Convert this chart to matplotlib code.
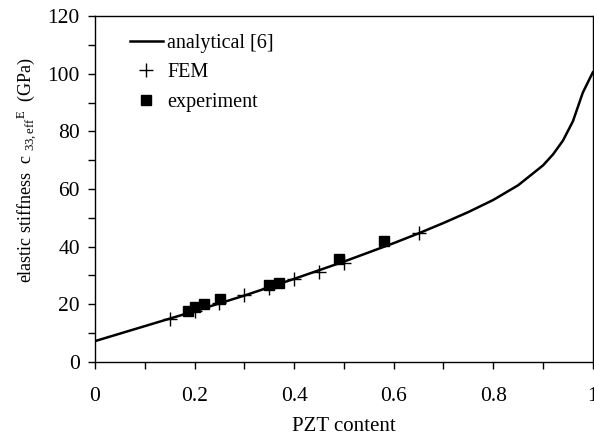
import numpy as np
import matplotlib
matplotlib.use("Agg")
import matplotlib.pyplot as plt
from matplotlib.ticker import MultipleLocator

plt.rcParams['font.family'] = ['Liberation Serif', 'DejaVu Serif']
plt.rcParams['mathtext.fontset'] = 'custom'
plt.rcParams['mathtext.rm'] = 'Liberation Serif'
plt.rcParams['mathtext.it'] = 'Liberation Serif'

# analytical curve [6]
x_ana = [0.0, 0.05, 0.1, 0.15, 0.2, 0.25, 0.3, 0.35, 0.4, 0.45, 0.5, 0.55, 0.6, 0.65,
         0.7, 0.75, 0.8, 0.85, 0.9, 0.92, 0.94, 0.96, 0.97, 0.98, 0.99, 1.0]
y_ana = [7.2, 9.8, 12.4, 15.0, 17.6, 20.3, 23.0, 25.9, 28.8, 31.8, 34.8, 38.0, 41.2, 44.6,
         48.2, 52.0, 56.2, 61.3, 68.2, 72.0, 76.8, 83.5, 88.5, 93.5, 97.0, 100.5]

# FEM results
x_fem = [0.15, 0.2, 0.25, 0.3, 0.35, 0.4, 0.45, 0.5, 0.65]
y_fem = [15.0, 17.6, 20.5, 23.2, 25.6, 28.8, 31.3, 34.4, 44.8]

# experiment
x_exp = [0.187, 0.2, 0.219, 0.251, 0.349, 0.37, 0.49, 0.58]
y_exp = [17.7, 19.0, 20.1, 21.9, 26.7, 27.3, 35.7, 42.0]

fig = plt.figure(figsize=(5.94, 4.37), dpi=100)
ax = fig.add_axes([0.16, 0.172, 0.838, 0.791])

ax.plot(x_ana, y_ana, color='black', lw=1.8, label='analytical [6]')
ax.plot(x_fem, y_fem, ls='none', marker='+', color='black', ms=9.5, mew=1.0, label='FEM')
ax.plot(x_exp, y_exp, ls='none', marker='s', color='black', ms=7, label='experiment')

ax.set_xlim(0, 1)
ax.set_ylim(0, 120)
ax.xaxis.set_major_locator(MultipleLocator(0.2))
ax.xaxis.set_minor_locator(MultipleLocator(0.1))
ax.yaxis.set_major_locator(MultipleLocator(20))
ax.yaxis.set_minor_locator(MultipleLocator(10))
ax.xaxis.set_major_formatter(plt.FuncFormatter(lambda v, p: f"{v:g}"))
ax.tick_params(which='both', direction='out', length=5, width=1, labelsize=15.5)
ax.tick_params(axis='x', pad=13)
ax.tick_params(axis='y', pad=6)
for s in ax.spines.values():
    s.set_linewidth(1.0)

ax.set_xlabel('PZT content', fontsize=15, labelpad=8)
ax.set_ylabel(r'elastic stiffness  c $_{33,\mathrm{eff}}$$^{E}$  (GPa)', fontsize=13)
ax.yaxis.set_label_coords(-0.112, 0.555)

ax.legend(loc='upper left', frameon=False, fontsize=14.5, handlelength=1.65,
          handletextpad=0.2, borderaxespad=0.0, borderpad=0.0, labelspacing=0.5,
          bbox_to_anchor=(0.07, 0.948))

fig.savefig('out.png', dpi=100)
